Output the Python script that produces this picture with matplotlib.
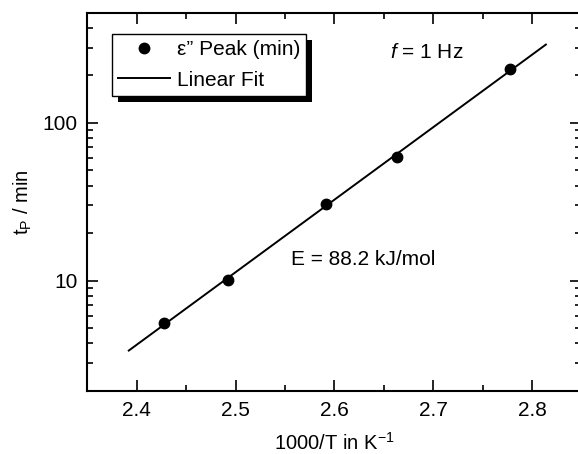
import numpy as np
import matplotlib.pyplot as plt
import matplotlib.patheffects as pe
from matplotlib.ticker import LogLocator, MultipleLocator, NullFormatter

plt.rcParams['font.family'] = ['Liberation Sans', 'DejaVu Sans']
plt.rcParams['mathtext.fontset'] = 'custom'
plt.rcParams['mathtext.rm'] = 'Liberation Sans'
plt.rcParams['mathtext.it'] = 'Liberation Sans:italic'

# dados
inv_T = np.array([2.428, 2.492, 2.592, 2.663, 2.778])
t_peak = np.array([5.4, 10.1, 30.7, 61.0, 219.0])
fit_range = np.array([2.392, 2.814])

# ajuste linear em log10(t) vs 1000/T
coef = np.polyfit(inv_T, np.log10(t_peak), 1)
t_fit = 10 ** np.polyval(coef, fit_range)

fig = plt.figure(figsize=(5.78, 4.54), dpi=100)
ax = fig.add_axes([0.151, 0.139, 0.855, 0.833])

ax.plot(fit_range, t_fit, color='black', lw=1.4, label='Linear Fit', zorder=2)
ax.plot(inv_T, t_peak, 'o', color='black', ms=7.5, label='ε” Peak (min)', zorder=3)

ax.set_yscale('log')
ax.set_xlim(2.35, 2.85)
ax.set_ylim(2, 500)
ax.set_xticks([2.4, 2.5, 2.6, 2.7, 2.8])
ax.xaxis.set_minor_locator(MultipleLocator(0.05))
ax.yaxis.set_minor_locator(LogLocator(base=10, subs=np.arange(2, 10), numticks=10))
ax.set_yticks([10, 100])
ax.set_yticklabels(['10', '100'])
ax.yaxis.set_minor_formatter(NullFormatter())

ax.tick_params(which='both', direction='in', top=True, right=True, width=1.2,
               labelsize=15, pad=7)
ax.tick_params(which='major', length=8)
ax.tick_params(which='minor', length=4.5)
for s in ax.spines.values():
    s.set_linewidth(1.5)

ax.set_xlabel('1000/T in K$^{\\mathregular{-1}}$', fontsize=14.5, labelpad=9)
ax.set_ylabel('t$_{\\mathregular{P}}$ / min', fontsize=14.5, labelpad=6)

ax.text(0.612, 0.896, '$f$ = 1 Hz', transform=ax.transAxes, fontsize=15, va='center')
ax.text(0.412, 0.347, 'E = 88.2 kJ/mol', transform=ax.transAxes, fontsize=15, va='center')

handles, labels = ax.get_legend_handles_labels()
leg = ax.legend(handles[::-1], labels[::-1], loc='upper left', bbox_to_anchor=(0.05, 0.944),
                borderaxespad=0, fontsize=15, frameon=True, fancybox=False,
                edgecolor='black', facecolor='white', framealpha=1.0,
                borderpad=0.3, handlelength=2.5, handletextpad=0.3,
                labelspacing=0.55)
leg.get_frame().set_linewidth(1.0)
leg.get_frame().set_path_effects([
    pe.SimplePatchShadow(offset=(4, -4.5), shadow_rgbFace='black', alpha=1.0),
    pe.Normal()])

plt.savefig('out.png', dpi=100)
